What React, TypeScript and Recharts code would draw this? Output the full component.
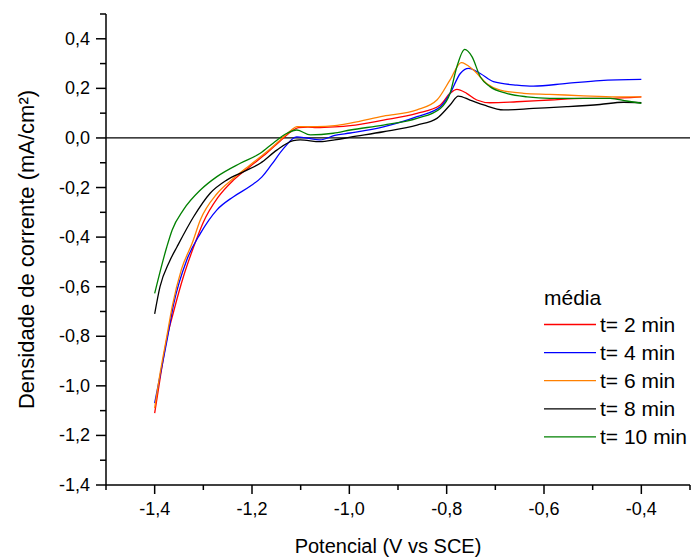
import React from "react";
import {
  LineChart,
  Line,
  XAxis,
  YAxis,
  ReferenceLine,
} from "recharts";

// Series (x = potential V vs SCE, y = mA/cm2)
const t2min = [
  { x: -1.4, y: -1.11 }, { x: -1.388, y: -0.96 }, { x: -1.375, y: -0.81 },
  { x: -1.361, y: -0.7 }, { x: -1.341, y: -0.56 }, { x: -1.32, y: -0.44 },
  { x: -1.3, y: -0.34 }, { x: -1.27, y: -0.24 }, { x: -1.238, y: -0.17 },
  { x: -1.204, y: -0.115 }, { x: -1.169, y: -0.06 }, { x: -1.142, y: -0.012 },
  { x: -1.12, y: 0.025 }, { x: -1.105, y: 0.042 }, { x: -1.085, y: 0.044 },
  { x: -1.067, y: 0.042 }, { x: -1.03, y: 0.045 }, { x: -0.998, y: 0.05 },
  { x: -0.93, y: 0.072 }, { x: -0.861, y: 0.099 }, { x: -0.813, y: 0.133 },
  { x: -0.793, y: 0.18 }, { x: -0.779, y: 0.196 }, { x: -0.759, y: 0.18 },
  { x: -0.738, y: 0.153 }, { x: -0.711, y: 0.142 }, { x: -0.656, y: 0.146 },
  { x: -0.588, y: 0.153 }, { x: -0.519, y: 0.16 }, { x: -0.471, y: 0.16 },
  { x: -0.4, y: 0.166 },
];

const t4min = [
  { x: -1.4, y: -1.07 }, { x: -1.388, y: -0.95 }, { x: -1.375, y: -0.82 },
  { x: -1.361, y: -0.67 }, { x: -1.334, y: -0.492 }, { x: -1.306, y: -0.385 },
  { x: -1.272, y: -0.29 }, { x: -1.238, y: -0.237 }, { x: -1.204, y: -0.195 },
  { x: -1.18, y: -0.158 }, { x: -1.16, y: -0.108 }, { x: -1.135, y: -0.042 },
  { x: -1.108, y: 0.004 }, { x: -1.087, y: -0.001 }, { x: -1.06, y: -0.008 },
  { x: -1.03, y: 0.01 }, { x: -0.998, y: 0.02 }, { x: -0.93, y: 0.045 },
  { x: -0.861, y: 0.086 }, { x: -0.813, y: 0.126 }, { x: -0.793, y: 0.18 },
  { x: -0.772, y: 0.26 }, { x: -0.755, y: 0.281 }, { x: -0.731, y: 0.26 },
  { x: -0.704, y: 0.227 }, { x: -0.656, y: 0.213 }, { x: -0.622, y: 0.209 },
  { x: -0.553, y: 0.22 }, { x: -0.485, y: 0.231 }, { x: -0.4, y: 0.236 },
];

const t6min = [
  { x: -1.4, y: -1.09 }, { x: -1.388, y: -0.94 }, { x: -1.375, y: -0.8 },
  { x: -1.364, y: -0.68 }, { x: -1.345, y: -0.53 }, { x: -1.323, y: -0.425 },
  { x: -1.306, y: -0.33 }, { x: -1.272, y: -0.225 }, { x: -1.238, y: -0.163 },
  { x: -1.204, y: -0.109 }, { x: -1.169, y: -0.055 }, { x: -1.142, y: -0.008 },
  { x: -1.12, y: 0.03 }, { x: -1.108, y: 0.046 }, { x: -1.067, y: 0.046 },
  { x: -1.03, y: 0.05 }, { x: -0.998, y: 0.06 }, { x: -0.93, y: 0.088 },
  { x: -0.861, y: 0.113 }, { x: -0.82, y: 0.153 }, { x: -0.793, y: 0.234 },
  { x: -0.77, y: 0.304 }, { x: -0.745, y: 0.274 }, { x: -0.718, y: 0.22 },
  { x: -0.69, y: 0.193 }, { x: -0.642, y: 0.18 }, { x: -0.588, y: 0.176 },
  { x: -0.519, y: 0.17 }, { x: -0.451, y: 0.166 }, { x: -0.4, y: 0.166 },
];

const t8min = [
  { x: -1.4, y: -0.71 }, { x: -1.389, y: -0.6 }, { x: -1.37, y: -0.5 },
  { x: -1.354, y: -0.439 }, { x: -1.32, y: -0.318 }, { x: -1.286, y: -0.223 },
  { x: -1.252, y: -0.17 }, { x: -1.217, y: -0.136 }, { x: -1.183, y: -0.102 },
  { x: -1.149, y: -0.049 }, { x: -1.115, y: -0.011 }, { x: -1.101, y: -0.008 },
  { x: -1.06, y: -0.015 }, { x: -1.03, y: -0.008 }, { x: -0.998, y: 0.003 },
  { x: -0.93, y: 0.025 }, { x: -0.861, y: 0.052 }, { x: -0.82, y: 0.079 },
  { x: -0.793, y: 0.133 }, { x: -0.776, y: 0.169 }, { x: -0.752, y: 0.153 },
  { x: -0.724, y: 0.133 }, { x: -0.683, y: 0.113 }, { x: -0.622, y: 0.119 },
  { x: -0.553, y: 0.126 }, { x: -0.485, y: 0.135 }, { x: -0.437, y: 0.144 },
  { x: -0.4, y: 0.142 },
];

const t10min = [
  { x: -1.4, y: -0.627 }, { x: -1.375, y: -0.439 }, { x: -1.364, y: -0.371 },
  { x: -1.341, y: -0.29 }, { x: -1.306, y: -0.21 }, { x: -1.272, y: -0.156 },
  { x: -1.224, y: -0.102 }, { x: -1.183, y: -0.062 }, { x: -1.156, y: -0.02 },
  { x: -1.128, y: 0.019 }, { x: -1.108, y: 0.032 }, { x: -1.08, y: 0.012 },
  { x: -1.033, y: 0.019 }, { x: -0.998, y: 0.032 }, { x: -0.93, y: 0.052 },
  { x: -0.861, y: 0.079 }, { x: -0.813, y: 0.119 }, { x: -0.793, y: 0.18 },
  { x: -0.779, y: 0.287 }, { x: -0.763, y: 0.357 }, { x: -0.748, y: 0.328 },
  { x: -0.731, y: 0.247 }, { x: -0.711, y: 0.207 }, { x: -0.677, y: 0.18 },
  { x: -0.635, y: 0.166 }, { x: -0.588, y: 0.16 }, { x: -0.519, y: 0.16 },
  { x: -0.464, y: 0.16 }, { x: -0.43, y: 0.149 }, { x: -0.4, y: 0.14 },
];

const xTicks = [-1.5, -1.4, -1.3, -1.2, -1.1, -1.0, -0.9, -0.8, -0.7, -0.6, -0.5, -0.4, -0.3];
const yTicks = [
  -1.4, -1.3, -1.2, -1.1, -1.0, -0.9, -0.8, -0.7, -0.6, -0.5, -0.4, -0.3, -0.2, -0.1,
  0.0, 0.1, 0.2, 0.3, 0.4, 0.5,
];

const series = [
  { name: "t= 2 min", data: t2min, color: "#ff0000" },
  { name: "t= 4 min", data: t4min, color: "#0000ff" },
  { name: "t= 6 min", data: t6min, color: "#ff8000" },
  { name: "t= 8 min", data: t8min, color: "#000000" },
  { name: "t= 10 min", data: t10min, color: "#008000" },
];

const FONT = "'Liberation Sans', Arial, sans-serif";

const isMajor = (v: number) => Math.abs(Math.round(v * 10)) % 2 === 0;
const fmt = (v: number) => v.toFixed(1).replace(".", ",").replace("-0,0", "0,0");

const XTick = (props: any) => {
  const { x, y, payload } = props;
  const major = isMajor(payload.value);
  return (
    <g>
      <line x1={x} y1={y} x2={x} y2={y + (major ? 9 : 5)} stroke="#000" strokeWidth={1.5} />
      {major && (
        <text x={x} y={y + 30} textAnchor="middle" fontSize={18} fontFamily={FONT} fill="#000">
          {fmt(payload.value)}
        </text>
      )}
    </g>
  );
};

const YTick = (props: any) => {
  const { x, y, payload } = props;
  const major = isMajor(payload.value);
  return (
    <g>
      <line x1={x} y1={y} x2={x - (major ? 10 : 6)} y2={y} stroke="#000" strokeWidth={1.5} />
      {major && (
        <text x={x - 16} y={y + 6} textAnchor="end" fontSize={18} fontFamily={FONT} fill="#000">
          {fmt(payload.value)}
        </text>
      )}
    </g>
  );
};

// legend drawn as plain svg over the plot, like Origin's boxed-less legend
const LegendOverlay = () => (
  <svg
    width={160}
    height={170}
    style={{ position: "absolute", left: 540, top: 280 }}
    fontFamily={FONT}
  >
    <text x={4} y={25} fontSize={21} fill="#000">média</text>
    {series.map((s, i) => {
      const cy = 44.5 + i * 28.1;
      return (
        <g key={s.name}>
          <line x1={4} y1={cy} x2={56} y2={cy} stroke={s.color} strokeWidth={1.3} />
          <text x={60} y={cy + 7.5} fontSize={21} fill="#000">{s.name}</text>
        </g>
      );
    })}
  </svg>
);

export default function App() {
  return (
    <div style={{ position: "absolute", left: 0, top: 0, width: 699, height: 557, background: "#fff" }}>
      <LineChart width={699} height={557} margin={{ top: 14, right: 9, bottom: 0, left: 0 }}>
        <XAxis
          type="number"
          dataKey="x"
          domain={[-1.5, -0.3]}
          ticks={xTicks}
          interval={0}
          allowDataOverflow
          tickSize={0}
          tickMargin={0}
          tick={<XTick />}
          stroke="#000"
          strokeWidth={1.5}
          height={72}
          label={{
            value: "Potencial (V vs SCE)",
            position: "insideBottom",
            offset: 4,
            dx: -10,
            style: { fontFamily: FONT, fontSize: 20, fill: "#000" },
          }}
        />
        <YAxis
          type="number"
          dataKey="y"
          domain={[-1.4, 0.5]}
          ticks={yTicks}
          interval={0}
          allowDataOverflow
          tickSize={0}
          tickMargin={0}
          tick={<YTick />}
          stroke="#000"
          strokeWidth={1.5}
          width={106}
          label={{
            value: "Densidade de corrente (mA/cm²)",
            angle: -90,
            position: "insideLeft",
            offset: 26,
            style: { fontFamily: FONT, fontSize: 22, fill: "#000", textAnchor: "middle" },
          }}
        />
        <ReferenceLine y={0} stroke="#000" strokeWidth={1.3} />
        {series.map((s) => (
          <Line
            key={s.name}
            data={s.data}
            dataKey="y"
            name={s.name}
            type="monotone"
            stroke={s.color}
            strokeWidth={1.3}
            dot={false}
            isAnimationActive={false}
          />
        ))}
      </LineChart>
      <LegendOverlay />
    </div>
  );
}
